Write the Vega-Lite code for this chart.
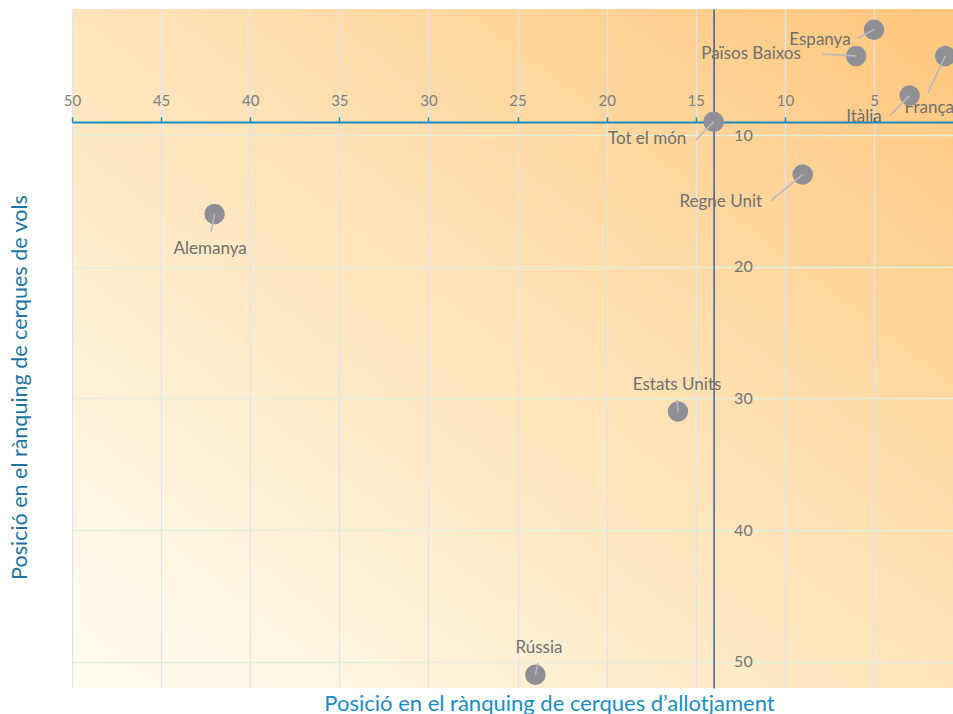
{
  "$schema": "https://vega.github.io/schema/vega-lite/v6.json",
  "width": 881,
  "height": 679,
  "autosize": {"type": "none"},
  "padding": {"left": 72, "top": 9, "right": 0, "bottom": 26},
  "background": "white",
  "view": {
    "stroke": null,
    "fill": {
      "gradient": "linear",
      "x1": 0, "y1": 1, "x2": 1, "y2": 0,
      "stops": [
        {"offset": 0, "color": "#FFFDF2"},
        {"offset": 0.5, "color": "#FFE4BA"},
        {"offset": 1, "color": "#FFC67C"}
      ]
    }
  },
  "data": {
    "values": [
      {"country": "Espanya", "x": 5, "y": 2, "lx": 8.03, "ly": 2.79, "ex": 5.9, "ey": 2.64},
      {"country": "Països Baixos", "x": 6, "y": 4, "lx": 11.9, "ly": 3.85, "ex": 7.9, "ey": 3.85},
      {"country": "França", "x": 1, "y": 4, "lx": 1.9, "ly": 7.95, "ex": 1.97, "ey": 6.8},
      {"country": "Itàlia", "x": 3, "y": 7, "lx": 5.56, "ly": 8.63, "ex": 4.1, "ey": 8.5},
      {"country": "Tot el món", "x": 14, "y": 9, "lx": 17.73, "ly": 10.3, "ex": 15.0, "ey": 10.38},
      {"country": "Regne Unit", "x": 9, "y": 13, "lx": 13.6, "ly": 15.1, "ex": 10.8, "ey": 15.0},
      {"country": "Alemanya", "x": 42, "y": 16, "lx": 42.25, "ly": 18.66, "ex": 42.2, "ey": 17.4},
      {"country": "Estats Units", "x": 16, "y": 31, "lx": 16.05, "ly": 29.0, "ex": 16.05, "ey": 30.1},
      {"country": "Rússia", "x": 24, "y": 51, "lx": 23.8, "ly": 48.96, "ex": 23.85, "ey": 50.1}
    ]
  },
  "resolve": {"axis": {"x": "independent", "y": "independent"}},
  "layer": [
    {
      "mark": {"type": "text", "font": "Lato", "fontSize": 17, "color": "#707070", "align": "center", "baseline": "middle"},
      "encoding": {
        "x": {
          "field": "lx", "type": "quantitative",
          "scale": {"domain": [0.567, 50], "reverse": true, "nice": false, "zero": false},
          "axis": {
            "orient": "bottom", "grid": true, "gridColor": "#DDE3F0", "gridWidth": 1.2,
            "values": [5, 10, 15, 20, 25, 30, 35, 40, 45, 50],
            "labels": false, "ticks": false, "domain": false,
            "title": "Posició en el rànquing de cerques d’allotjament",
            "titleFont": "Lato", "titleFontSize": 22, "titleFontWeight": "normal", "titleColor": "#1A8DC6",
            "titleX": 477, "titleY": 22, "titleBaseline": "alphabetic", "titleAlign": "center"
          }
        },
        "y": {
          "field": "ly", "type": "quantitative",
          "scale": {"domain": [0.43, 52], "reverse": true, "nice": false, "zero": false},
          "axis": {
            "orient": "left", "grid": true, "gridColor": "#E2F0D9", "gridWidth": 1.5,
            "values": [10, 20, 30, 40, 50],
            "labels": false, "ticks": false, "domain": false,
            "title": "Posició en el rànquing de cerques de vols",
            "titleFont": "Lato", "titleFontSize": 21.5, "titleFontWeight": "normal", "titleColor": "#1D76A2",
            "titleX": -52, "titleY": 378, "titleAngle": -90, "titleBaseline": "middle", "titleAlign": "center"
          }
        },
        "text": {"field": "country"}
      }
    },
    {
      "mark": {"type": "circle", "size": 420, "color": "#8F8F95", "opacity": 1},
      "encoding": {
        "x": {
          "field": "x", "type": "quantitative",
          "axis": {
            "orient": "top", "offset": -112.9, "grid": false,
            "values": [5, 10, 15, 20, 25, 30, 35, 40, 45, 50],
            "domainColor": "#1A8CC0", "domainWidth": 2,
            "tickColor": "#1A8CC0", "tickWidth": 1.5, "tickSize": 5,
            "labelColor": "#808080", "labelFont": "Lato", "labelFontSize": 15, "labelPadding": 8,
            "labelFlush": false, "labelOverlap": false,
            "title": null
          }
        },
        "y": {
          "field": "y", "type": "quantitative",
          "axis": {
            "orient": "right", "offset": -239.4, "grid": false,
            "values": [10, 20, 30, 40, 50],
            "domainColor": "#3F5D9C", "domainWidth": 1.5,
            "ticks": false, "tickSize": 0,
            "labelColor": "#757575", "labelFont": "Lato", "labelFontSize": 16, "labelPadding": 20, "labelAlign": "left",
            "labelFlush": false,
            "title": null
          }
        }
      }
    },
    {
      "mark": {"type": "rule", "color": "#B8B8BE", "strokeWidth": 1.5},
      "encoding": {
        "x": {"field": "x", "type": "quantitative", "axis": null},
        "y": {"field": "y", "type": "quantitative", "axis": null},
        "x2": {"field": "ex"},
        "y2": {"field": "ey"}
      }
    }
  ]
}
